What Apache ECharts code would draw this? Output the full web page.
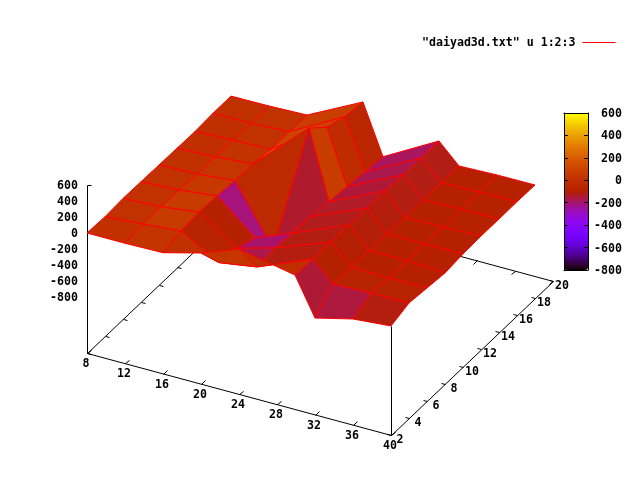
<!DOCTYPE html>
<html>
<head>
<meta charset="utf-8">
<style>html,body{margin:0;padding:0;background:#fff;overflow:hidden}#c{width:640px;height:480px}</style>
<script src="https://cdn.jsdelivr.net/npm/echarts@6/dist/echarts.min.js"></script>
</head>
<body>
<div id="c"></div>
<script>
// --- data ---
const seriesName = '"daiyad3d.txt" u 1:2:3';
const xTicks = [8, 12, 16, 20, 24, 28, 32, 36, 40];
const yTicks = [2, 4, 6, 8, 10, 12, 14, 16, 18, 20];
const zTicks = [600, 400, 200, 0, -200, -400, -600, -800];
const cbTicks = [-800, -600, -400, -200, 0, 200, 400, 600];

const scanX = [8, 12, 16, 20, 24, 28, 32, 36, 40];
const yPlain = [2, 4, 6, 8, 10, 12, 14, 16, 18];
const y20 = [2, 4, 6, 8, 10, 14, 16, 18, 20];
const y28 = [4, 6, 8, 10, 12, 14, 16, 18, 20];
const scanY = [yPlain, yPlain, yPlain, y20, yPlain, y28, yPlain, yPlain, yPlain];

const zAt8  = [0, -10, 5, 0, -5, -10, -15, 0, 0];
const zAt12 = [0, 26, 29, 24, 10, 12, 7, 2, 5];
const zAt16 = [10, 67, 87, 77, 54, 50, 19, 25, 20];
const zAt20 = [134, -200, -235, -316, -660, 410, 209, 127, 97];
const zAt24 = [312, -126, -102, -129, -139, -165, -190, -220, -245];
const zAt28 = [-99, -112, -114, -115, -116, -117, -131, -136, -134];
const zAt32 = [-294, -83, -87, -96, -100, -108, -103, -100, -105];
const zAt36 = [-178, -67, -94, -91, -96, -98, -87, -87, -89];
const zAt40 = [-137, -64, -90, -116, -92, -82, -84, -81, -86];
const scanZ = [zAt8, zAt12, zAt16, zAt20, zAt24, zAt28, zAt32, zAt36, zAt40];

const xRange = [8, 40], yRange = [2, 20], zRange = [-800, 600], zBase = -1500;

function project(x, y, z) {
  return [
    87 + 9.5 * (x - 8) + 9 * (y - 2),
    353 + 2.5625 * (x - 8) - 8.556 * (y - 2) - 0.08 * (z - zBase)
  ];
}

const palette = [];
for (let i = 0; i <= 128; i++) {
  const g = i / 128;
  const c = v => Math.round(255 * Math.max(0, Math.min(1, v)));
  palette.push('rgb(' + c(Math.sqrt(g)) + ',' + c(g * g * g) + ',' + c(Math.sin(2 * Math.PI * g)) + ')');
}

const cells = [];
for (let r = 0; r < scanX.length - 1; r++) {
  for (let k = scanY[r].length - 2; k >= 0; k--) {
    const mean = (scanZ[r][k] + scanZ[r][k + 1] + scanZ[r + 1][k] + scanZ[r + 1][k + 1]) / 4;
    cells.push([mean, r, k]);
  }
}

const [x0, x1] = xRange, [y0, y1] = yRange;
const segs = [
  [x0, y0, zBase, x1, y0, zBase],
  [x1, y0, zBase, x1, y1, zBase],
  [x1, y1, zBase, x0, y1, zBase],
  [x0, y1, zBase, x0, y0, zBase],
  [x0, y0, zBase, x0, y0, zRange[1]],
  [x0, y0, zRange[1], x0 + 0.328, y0 + 0.098, zRange[1]],
  [x1, y0, zBase, x1, y0, -137]
];
const xTickLen = 0.4, yTickLen = 0.4;
xTicks.forEach(t => {
  segs.push([t, y0, zBase, t, y0 + xTickLen, zBase]);
  segs.push([t, y1, zBase, t, y1 - xTickLen, zBase]);
});
yTicks.forEach(t => {
  segs.push([x1, t, zBase, x1 - yTickLen, t, zBase]);
  segs.push([x0, t, zBase, x0 + yTickLen, t, zBase]);
});

const font = 'bold 11.6px "DejaVu Sans Mono"';
const labels = [];
xTicks.forEach(t => labels.push([t, y0, zBase, -1, 11, String(t), 'center']));
yTicks.forEach(t => labels.push([x1, t, zBase, 9, 5, String(t), 'center']));
zTicks.forEach(t => labels.push([x0, y0, t, -9, 1, String(t), 'right']));

const chart = echarts.init(document.getElementById('c'), null, { renderer: 'canvas' });
const px = v => Math.round(v) + 0.5;
const barEdge = { show: true, onZero: false, lineStyle: { color: '#000' } };

chart.setOption({
  animation: false,
  backgroundColor: '#fff',
  legend: {
    data: [{ name: seriesName, icon: 'rect', itemStyle: { color: '#ff0000' } }],
    left: 422, top: 36.5, padding: 0, align: 'right',
    itemWidth: 33, itemHeight: 1, selectedMode: false,
    textStyle: { fontFamily: 'DejaVu Sans Mono', fontWeight: 'bold', fontSize: 11.6, color: '#000', padding: [0, 2, 0, 0] }
  },
  visualMap: {
    type: 'continuous', min: zRange[0], max: zRange[1], left: 564, top: 113,
    itemWidth: 24, itemHeight: 157, padding: 0, seriesIndex: 2, dimension: 0,
    calculable: false, hoverLink: false, text: null, realtime: false,
    inRange: { color: palette }
  },
  grid: [
    { left: 0, top: 0, width: 640, height: 480 },
    { left: 564, top: 113, width: 24, height: 157 }
  ],
  xAxis: [
    { gridIndex: 0, type: 'value', min: 0, max: 640, show: false },
    { gridIndex: 1, type: 'value', min: 0, max: 1, position: 'bottom', z: 10, splitLine: { show: false }, axisTick: { show: false }, axisLabel: { show: false }, axisLine: barEdge },
    { gridIndex: 1, type: 'value', min: 0, max: 1, position: 'top', z: 10, splitLine: { show: false }, axisTick: { show: false }, axisLabel: { show: false }, axisLine: barEdge }
  ],
  yAxis: [
    { gridIndex: 0, type: 'value', min: 0, max: 480, inverse: true, show: false },
    { gridIndex: 1, type: 'value', min: cbTicks[0], max: cbTicks[cbTicks.length - 1], interval: 200, position: 'right', z: 10,
      splitLine: { show: false },
      axisLine: barEdge,
      axisTick: { show: true, inside: true, length: 4, lineStyle: { color: '#000' } },
      axisLabel: { show: false } },
    { gridIndex: 1, type: 'value', min: cbTicks[0], max: cbTicks[cbTicks.length - 1], interval: 200, position: 'left', z: 10,
      splitLine: { show: false },
      axisLine: barEdge,
      axisTick: { show: true, inside: true, length: 4, lineStyle: { color: '#000' } },
      axisLabel: { show: false } }
  ],
  series: [
    {
      type: 'custom', name: 'frame', coordinateSystem: 'cartesian2d', xAxisIndex: 0, yAxisIndex: 0,
      silent: true, clip: false, z: 1, data: segs,
      renderItem: (p, api) => {
        const a = api.coord(project(api.value(0), api.value(1), api.value(2)));
        const b = api.coord(project(api.value(3), api.value(4), api.value(5)));
        return { type: 'line', shape: { x1: px(a[0]), y1: px(a[1]), x2: px(b[0]), y2: px(b[1]) }, style: { stroke: '#000', lineWidth: 1 } };
      }
    },
    {
      type: 'custom', name: 'ticks', coordinateSystem: 'cartesian2d', xAxisIndex: 0, yAxisIndex: 0,
      silent: true, clip: false, z: 1,
      data: labels.map((l, i) => [l[0], l[1], l[2], l[3], l[4], i]),
      renderItem: (p, api) => {
        const a = api.coord(project(api.value(0), api.value(1), api.value(2)));
        const l = labels[p.dataIndex];
        return { type: 'text', style: { x: a[0] + l[3], y: a[1] + l[4], text: l[5], font: font, fill: '#000', align: l[6], verticalAlign: 'middle' } };
      }
    },
    {
      type: 'custom', name: seriesName, coordinateSystem: 'cartesian2d', xAxisIndex: 0, yAxisIndex: 0,
      silent: true, clip: false, z: 2, progressive: 0, data: cells, encode: { x: 1, y: 2 },
      renderItem: (p, api) => {
        const r = api.value(1), k = api.value(2);
        const corner = (rr, kk) => api.coord(project(scanX[rr], scanY[rr][kk], scanZ[rr][kk]));
        return {
          type: 'polygon',
          shape: { points: [corner(r, k), corner(r, k + 1), corner(r + 1, k + 1), corner(r + 1, k)] },
          style: { fill: api.visual('color'), stroke: '#ff0000', lineWidth: 1 }
        };
      }
    },
    {
      type: 'custom', name: 'barLabels', coordinateSystem: 'cartesian2d', xAxisIndex: 1, yAxisIndex: 1,
      silent: true, clip: false, z: 3, data: cbTicks.map(t => [1, t]),
      renderItem: (p, api) => {
        const a = api.coord([api.value(0), api.value(1)]);
        return { type: 'text', style: { x: a[0] + 34, y: a[1] + 1, text: String(api.value(1)), font: font, fill: '#000', align: 'right', verticalAlign: 'middle' } };
      }
    }
  ]
});
</script>
</body>
</html>
